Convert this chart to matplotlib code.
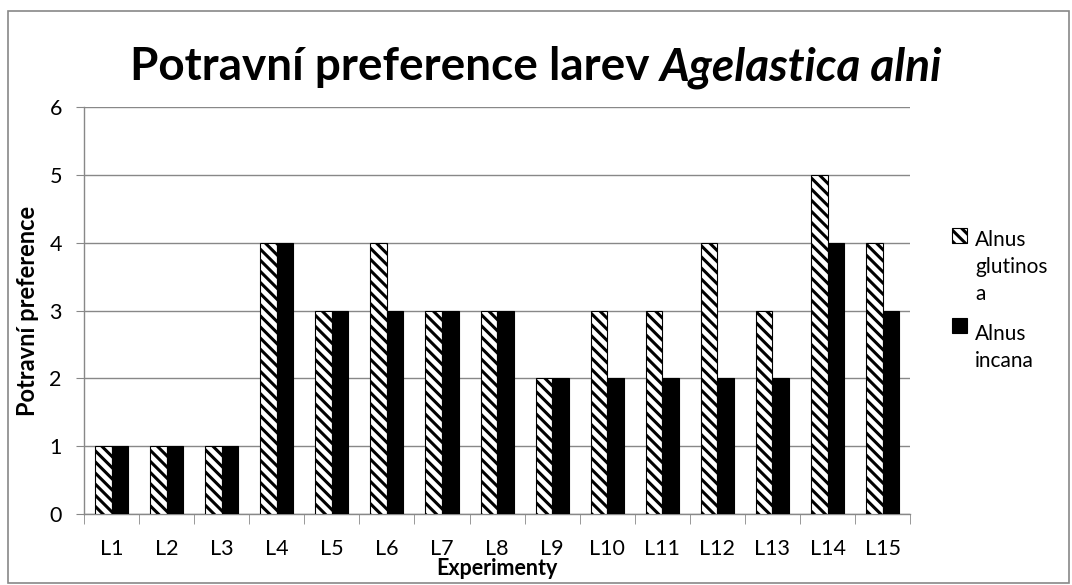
import matplotlib
matplotlib.use("Agg")
import matplotlib.pyplot as plt
import numpy as np
from matplotlib.patches import Rectangle

categories = ["L1", "L2", "L3", "L4", "L5", "L6", "L7", "L8", "L9", "L10", "L11", "L12", "L13", "L14", "L15"]
glutinosa = [1, 1, 1, 4, 3, 4, 3, 3, 2, 3, 3, 4, 3, 5, 4]
incana = [1, 1, 1, 4, 3, 3, 3, 3, 2, 2, 2, 2, 2, 4, 3]
series_labels = ["Alnus\nglutinos\na", "Alnus\nincana"]
title_plain = "Potravní preference larev "
title_italic = "Agelastica alni"

plt.rcParams['font.family'] = ['Lato', 'DejaVu Sans']
plt.rcParams['hatch.linewidth'] = 2.2

W, H = 1072, 585
fig = plt.figure(figsize=(W / 100, H / 100), dpi=100)
fig.patches.append(Rectangle((0.007, 0.003), 0.99, 0.978, transform=fig.transFigure,
                             fill=False, edgecolor='#888888', linewidth=1.2))
ax = fig.add_axes([0.0784, 0.1214, 0.7706, 0.6956])

x = np.arange(len(categories))
w = 0.3
ax.bar(x - w/2, glutinosa, w, facecolor='white', edgecolor='black', hatch='\\\\\\',
       linewidth=0.8, label=series_labels[0], zorder=3)
ax.bar(x + w/2, incana, w, facecolor='black', edgecolor='black',
       linewidth=0.8, label=series_labels[1], zorder=3)

ax.set_xlim(-0.5, len(categories) - 0.5)
ax.set_ylim(0, 6)
ax.set_yticks(range(0, 7))
ax.set_xticks(x)
ax.set_xticklabels(categories)
ax.set_xticks(np.arange(-0.5, len(categories)), minor=True)
ax.tick_params(axis='x', which='major', length=0, pad=18, labelsize=15.5)
ax.tick_params(axis='x', which='minor', length=7, color='#888888', direction='out')
ax.tick_params(axis='y', length=6, color='#888888', labelsize=15.5, pad=10)
ax.yaxis.grid(True, color='#888888', linewidth=1.0, zorder=0)
ax.set_axisbelow(True)
for s in ['top', 'right']:
    ax.spines[s].set_visible(False)
for s in ['left', 'bottom']:
    ax.spines[s].set_color('#888888')
    ax.spines[s].set_linewidth(1.0)

ax.set_xlabel("Experimenty", fontweight='bold', fontsize=15.5)
ax.set_ylabel("Potravní preference", fontweight='bold', fontsize=17)
ax.xaxis.set_label_coords(0.5, -0.108)
ax.yaxis.set_label_coords(-0.054, 0.50)

# Title: bold upright part followed by bold italic part, centred as a whole
fig.canvas.draw()
renderer = fig.canvas.get_renderer()
t1 = fig.text(0, 0.885, title_plain, ha='left', va='center', fontsize=33, fontweight='bold')
t2 = fig.text(0, 0.885, title_italic, ha='left', va='center', fontsize=33,
              fontweight='bold', fontstyle='italic')
w1 = t1.get_window_extent(renderer).width / fig.bbox.width
w2 = t2.get_window_extent(renderer).width / fig.bbox.width
x0 = 0.500 - (w1 + w2) / 2
t1.set_x(x0)
t2.set_x(x0 + w1)

# Legend (drawn manually so that wrapped labels keep Excel-like line spacing)
handles = [dict(facecolor='white', edgecolor='black', hatch='\\\\\\'),
           dict(facecolor='black', edgecolor='black')]
box_y = [228, 318]
text_y = [267, 347.5]
for hs, by, ty, lab in zip(handles, box_y, text_y, series_labels):
    fig.patches.append(Rectangle((952 / W, 1 - (by + 15) / H), 15 / W, 15 / H,
                                 transform=fig.transFigure, linewidth=0.8, **hs))
    fig.text(975 / W, 1 - ty / H, lab, ha='left', va='center', fontsize=15,
             linespacing=1.45)

fig.savefig("out.png", dpi=100)
